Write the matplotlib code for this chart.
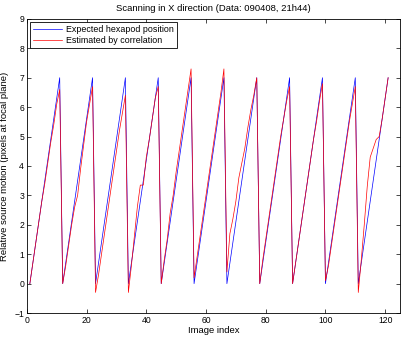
import numpy as np
import matplotlib.pyplot as plt

# image index 1..121, 11 scans of 11 images each
image_index = list(range(1, 122))

# expected hexapod position (pixels at focal plane)
expected = [0.0, 0.7, 1.4, 2.1, 2.8, 3.5, 4.2, 4.9, 5.6, 6.3, 7.0] * 11

# estimated by correlation, one list per scan
est_scan1 = [0.0, 0.7, 1.4, 2.1, 2.8, 3.4, 4.1, 4.8, 5.4, 6.1, 6.6]
est_scan2 = [0.0, 0.6, 1.3, 2.0, 2.6, 3.0, 3.9, 4.7, 5.5, 6.1, 6.7]
est_scan3 = [-0.3, 0.3, 1.0, 1.7, 2.4, 3.1, 3.8, 4.5, 5.2, 5.8, 6.4]
est_scan4 = [-0.3, 0.6, 1.6, 2.6, 3.35, 3.35, 4.3, 4.9, 5.6, 6.3, 6.7]
est_scan5 = [0.0, 0.8, 1.5, 2.4, 3.0, 3.8, 4.5, 5.2, 5.9, 6.6, 7.3]
est_scan6 = [0.2, 0.9, 1.6, 2.3, 3.0, 3.7, 4.4, 5.1, 5.8, 6.5, 7.3]
est_scan7 = [0.4, 1.7, 2.2, 2.8, 3.6, 4.1, 4.6, 5.3, 5.9, 6.4, 7.0]
est_scan8 = [0.0, 0.8, 1.5, 2.2, 2.9, 3.6, 4.3, 5.0, 5.6, 6.2, 6.7]
est_scan9 = [0.0, 0.7, 1.4, 2.1, 2.8, 3.5, 4.2, 4.9, 5.5, 6.2, 6.8]
est_scan10 = [0.1, 0.6, 1.3, 2.0, 2.7, 3.4, 4.1, 4.8, 5.5, 6.1, 6.7]
est_scan11 = [-0.3, 0.8, 2.0, 3.3, 4.3, 4.6, 4.9, 5.0, 5.6, 6.3, 7.0]

estimated = (est_scan1 + est_scan2 + est_scan3 + est_scan4 + est_scan5 + est_scan6
             + est_scan7 + est_scan8 + est_scan9 + est_scan10 + est_scan11)

plt.rcParams['font.family'] = ['Liberation Sans', 'DejaVu Sans']
plt.rcParams['font.size'] = 6.2

fig = plt.figure(figsize=(4.07, 3.37), dpi=100)
ax = fig.add_axes([0.066, 0.071, 0.917, 0.873])

ax.plot(image_index, expected, color='#0000ff', linewidth=0.5, label='Expected hexapod position')
ax.plot(image_index, estimated, color='#ff0000', linewidth=0.5, label='Estimated by correlation')

ax.set_xlim(0, 125)
ax.set_ylim(-1, 9)
ax.set_xticks(np.arange(0, 121, 20))
ax.set_yticks(np.arange(-1, 10, 1))
ax.tick_params(direction='in', top=True, right=True, length=3, width=0.5, labelsize=6.2, pad=2)
for s in ax.spines.values():
    s.set_linewidth(0.6)

ax.set_xlabel('Image index', fontsize=6.8, labelpad=1)
ax.set_ylabel('Relative source motion (pixels at focal plane)', fontsize=6.8, labelpad=4)
ax.set_title('Scanning in X direction (Data: 090408, 21h44)', fontsize=6.8, pad=6)

leg = ax.legend(loc='upper left', fontsize=6.4, fancybox=False, edgecolor='black',
                framealpha=1, handlelength=3.2, borderaxespad=0.4, borderpad=0.3,
                labelspacing=0.2, handletextpad=0.5)
leg.get_frame().set_linewidth(0.6)

fig.savefig('out.png', dpi=100)
